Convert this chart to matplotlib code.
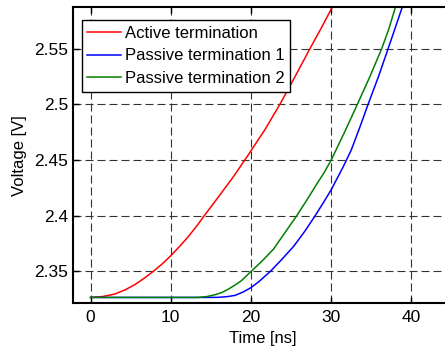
import matplotlib
matplotlib.use('Agg')
import matplotlib.pyplot as plt

# values (time in ns, voltage in V)
t_active = [0, 1.5, 3.0, 4.3, 5.5, 6.7, 7.8, 8.9, 10.0, 11.1, 12.2, 13.2, 14.25, 16.0, 17.8, 19.65,
            21.8, 23.6, 25.5, 27.35, 28.8, 30.1]
v_active = [2.3267, 2.3275, 2.3297, 2.3335, 2.3381, 2.344, 2.35, 2.3566, 2.3641, 2.3725, 2.3814, 2.3905,
            2.4008, 2.4175, 2.435, 2.4545, 2.478, 2.5, 2.525, 2.55, 2.569, 2.5868]

t_pass1 = [0, 5, 10, 14, 15.9, 17.0, 18.0, 19.0, 20.0, 21.0, 22.4, 23.8, 25.3, 26.7, 28.0, 29.0, 30.0,
           31.5, 32.5, 33.6, 34.6, 35.9, 37.1, 38.0, 38.85]
v_pass1 = [2.3267, 2.3267, 2.3267, 2.3267, 2.3268, 2.3274, 2.3285, 2.3315, 2.3355, 2.341, 2.35, 2.3605,
           2.3724, 2.386, 2.4, 2.4115, 2.4233, 2.444, 2.459, 2.48, 2.5, 2.525, 2.55, 2.569, 2.587]

t_pass2 = [0, 5, 10, 13.4, 14.5, 15.5, 16.4, 17.2, 18.0, 18.8, 20.0, 21.4, 22.8, 24.2, 25.7, 27.0, 28.2,
           29.1, 30.0, 31.6, 33.2, 34.8, 36.3, 37.2, 38.0]
v_pass2 = [2.3267, 2.3267, 2.3267, 2.3267, 2.3275, 2.3291, 2.3312, 2.3342, 2.3378, 2.3417, 2.35, 2.3595,
           2.37, 2.3845, 2.4, 2.4145, 2.4285, 2.4385, 2.45, 2.474, 2.499, 2.5245, 2.55, 2.568, 2.587]

x_ticks = [0, 10, 20, 30, 40]
y_ticks = [2.35, 2.4, 2.45, 2.5, 2.55]
y_tick_labels = ['2.35', '2.4', '2.45', '2.5', '2.55']

plt.rcParams['font.family'] = ['Liberation Sans', 'DejaVu Sans']

fig = plt.figure(figsize=(4.45, 3.48), dpi=100)
ax = fig.add_axes([0.163, 0.128, 0.857, 0.851])

ax.plot(t_active, v_active, color='red', linewidth=1.1, label='Active termination')
ax.plot(t_pass1, v_pass1, color='blue', linewidth=1.1, label='Passive termination 1')
ax.plot(t_pass2, v_pass2, color='green', linewidth=1.1, label='Passive termination 2')

ax.set_xlim(-2.25, 45.3)
ax.set_ylim(2.3213, 2.5871)
ax.set_xticks(x_ticks)
ax.set_yticks(y_ticks)
ax.set_yticklabels(y_tick_labels)
ax.tick_params(direction='in', length=4, width=1, labelsize=12.5, top=True, right=True)
ax.tick_params(axis='x', pad=4.5)
ax.tick_params(axis='y', pad=3)
ax.grid(True, linestyle=(0, (7.2, 3.6)), linewidth=0.8, color='#333333')
for sp in ax.spines.values():
    sp.set_linewidth(1.5)

ax.set_xlabel('Time [ns]', fontsize=12, labelpad=4.5)
ax.set_ylabel('Voltage [V]', fontsize=12, labelpad=5)

leg = ax.legend(loc='upper left', bbox_to_anchor=(0.0236, 0.957), fontsize=12, fancybox=False,
                framealpha=1, edgecolor='black', handlelength=2.0, handletextpad=0.25,
                labelspacing=0.45, borderpad=0.35, borderaxespad=0)
leg.get_frame().set_linewidth(1.0)

fig.savefig('out.png', dpi=100)
